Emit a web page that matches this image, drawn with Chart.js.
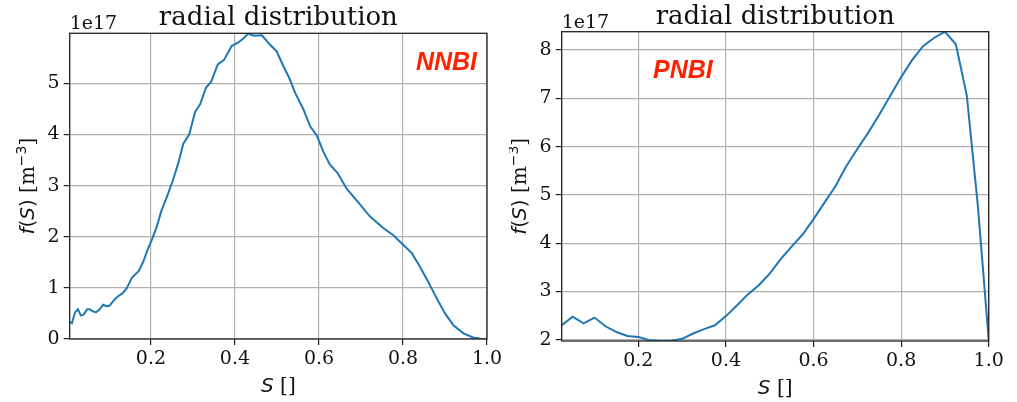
<!DOCTYPE html>
<html lang="en">
<head>
<meta charset="UTF-8">
<title>radial distribution</title>
<script src="https://cdn.jsdelivr.net/npm/chart.js"></script>
<style>
    body { margin: 0; background: white; }
    #wrap { position: relative; width: 1017px; height: 402px; }
    canvas { position: absolute; top: 0; }
    #nnbiChart { left: 0; }
    #pnbiChart { left: 509px; }
</style>
</head>
<body>
<div id="wrap">
    <canvas id="nnbiChart" width="508" height="402"></canvas>
    <canvas id="pnbiChart" width="508" height="402"></canvas>
</div>
<script>
// values are in units of 1e17 m^-3
const nnbiS = [0.0065, 0.012, 0.019, 0.026, 0.033, 0.039, 0.048, 0.054, 0.062, 0.069, 0.077, 0.086, 0.094, 0.101,
    0.108, 0.115, 0.124, 0.133, 0.142, 0.155, 0.171, 0.182, 0.192, 0.202, 0.213, 0.225, 0.237, 0.252, 0.265, 0.277,
    0.291, 0.305, 0.317, 0.331, 0.343, 0.359, 0.374, 0.392, 0.408, 0.420, 0.432, 0.440, 0.448, 0.464, 0.483, 0.499,
    0.515, 0.529, 0.543, 0.563, 0.579, 0.595, 0.610, 0.626, 0.644, 0.666, 0.698, 0.721, 0.753, 0.777, 0.801, 0.821,
    0.840, 0.860, 0.880, 0.900, 0.920, 0.944, 0.967, 0.985, 1.0];
const nnbiF = [0.33, 0.31, 0.52, 0.58, 0.46, 0.47, 0.58, 0.58, 0.54, 0.52, 0.57, 0.67, 0.64, 0.65,
    0.72, 0.79, 0.85, 0.90, 0.99, 1.20, 1.33, 1.52, 1.75, 1.94, 2.18, 2.51, 2.76, 3.10, 3.44, 3.82,
    4.00, 4.44, 4.59, 4.92, 5.03, 5.37, 5.46, 5.73, 5.80, 5.88, 5.98, 5.94, 5.93, 5.94, 5.76, 5.63,
    5.34, 5.11, 4.82, 4.49, 4.16, 3.98, 3.67, 3.41, 3.25, 2.94, 2.63, 2.40, 2.17, 2.03, 1.84, 1.68,
    1.42, 1.12, 0.80, 0.50, 0.27, 0.11, 0.03, 0.005, 0.0];

const pnbiS = [0.025, 0.05, 0.075, 0.1, 0.125, 0.15, 0.175, 0.2, 0.225, 0.25, 0.275, 0.3, 0.325, 0.35, 0.375,
    0.4, 0.425, 0.45, 0.475, 0.5, 0.525, 0.55, 0.575, 0.6, 0.625, 0.65, 0.675, 0.7, 0.725, 0.75, 0.775,
    0.8, 0.825, 0.85, 0.875, 0.9, 0.925, 0.95, 0.975, 1.0];
const pnbiF = [2.30, 2.48, 2.34, 2.46, 2.28, 2.16, 2.08, 2.06, 1.99, 1.975, 1.98, 2.02, 2.13, 2.22, 2.30,
    2.49, 2.71, 2.94, 3.13, 3.37, 3.67, 3.93, 4.18, 4.50, 4.84, 5.18, 5.60, 5.95, 6.29, 6.66, 7.05,
    7.44, 7.79, 8.08, 8.25, 8.38, 8.12, 7.06, 4.80, 2.0];

const xTicks = [0.2, 0.4, 0.6, 0.8, 1.0];
const nnbiYTicks = [0, 1, 2, 3, 4, 5];
const pnbiYTicks = [2, 3, 4, 5, 6, 7, 8];
const exponentLabel = '1e17';
const titleText = 'radial distribution';

const SERIF = "'DejaVu Serif', serif";
const SANS = "'DejaVu Sans', sans-serif";
const TAG_FONT = "italic bold 25px 'Liberation Sans', Arial, sans-serif";

const yLabelRuns = [
    { t: 'f', font: `italic 20px ${SANS}` },
    { t: '(', font: `20px ${SANS}` },
    { t: 'S', font: `italic 20px ${SANS}` },
    { t: ')', font: `20px ${SANS}` },
    { t: ' [m', font: `20px ${SERIF}` },
    { t: '\u22123', font: `14px ${SANS}`, rise: 8 },
    { t: ']', font: `20px ${SERIF}` }
];
const xLabelRuns = [
    { t: 'S', font: `italic 20px ${SANS}` },
    { t: ' []', font: `20px ${SERIF}` }
];

// draw a row of text pieces with different fonts
function drawRuns(ctx, runs, x, y) {
    let total = 0;
    runs.forEach(r => { ctx.font = r.font; total += ctx.measureText(r.t).width; });
    let cx = x - total / 2;
    runs.forEach(r => {
        ctx.font = r.font;
        ctx.fillText(r.t, cx, y - (r.rise || 0));
        cx += ctx.measureText(r.t).width;
    });
}

const decorPlugin = {
    id: 'decor',
    afterDraw(chart, args, opts) {
        const ctx = chart.ctx;
        const a = chart.chartArea;
        ctx.save();
        ctx.strokeStyle = '#222';
        ctx.lineWidth = 1.3;
        ctx.strokeRect(a.left, a.top, a.right - a.left, a.bottom - a.top);

        ctx.fillStyle = '#111';
        ctx.textBaseline = 'alphabetic';
        ctx.textAlign = 'center';
        ctx.font = `26px ${SERIF}`;
        ctx.fillText(titleText, (a.left + a.right) / 2, a.top - 8);

        ctx.textAlign = 'left';
        ctx.font = `19px ${SERIF}`;
        ctx.fillText(exponentLabel, a.left, a.top - 4);

        drawRuns(ctx, xLabelRuns, (a.left + a.right) / 2, a.bottom + 53);

        ctx.save();
        ctx.translate(a.left - 36, (a.top + a.bottom) / 2);
        ctx.rotate(-Math.PI / 2);
        drawRuns(ctx, yLabelRuns, 0, 0);
        ctx.restore();

        ctx.font = TAG_FONT;
        ctx.fillStyle = '#ff2200';
        ctx.textAlign = opts.tagAlign;
        ctx.fillText(opts.tag, opts.tagX, opts.tagY);
        ctx.restore();
    }
};

function makeChart(id, s, f, yTicks, geom, tag) {
    const points = s.map((v, i) => ({ x: v, y: f[i] }));
    return new Chart(document.getElementById(id), {
        type: 'line',
        data: {
            datasets: [{
                data: points,
                borderColor: '#1f77b4',
                borderWidth: 2,
                pointRadius: 0,
                tension: 0,
                fill: false
            }]
        },
        options: {
            responsive: false,
            animation: false,
            devicePixelRatio: 1,
            layout: { padding: { left: 0, top: geom.top, right: geom.right, bottom: 0 } },
            plugins: {
                legend: { display: false },
                tooltip: { enabled: false },
                decor: tag
            },
            scales: {
                x: {
                    type: 'linear',
                    min: s[0],
                    max: s[s.length - 1],
                    afterBuildTicks: sc => { sc.ticks = xTicks.map(v => ({ value: v })); },
                    afterFit: sc => { sc.height = geom.xAxisH; },
                    grid: { color: '#b0b0b0', lineWidth: 1.2, tickColor: '#222', tickLength: 6 },
                    border: { display: false },
                    ticks: {
                        color: '#111',
                        font: { family: SERIF, size: 19 },
                        padding: 3,
                        maxRotation: 0,
                        autoSkip: false,
                        callback: v => v.toFixed(1)
                    }
                },
                y: {
                    min: Math.min(...f),
                    max: Math.max(...f),
                    afterBuildTicks: sc => { sc.ticks = yTicks.map(v => ({ value: v })); },
                    afterFit: sc => { sc.width = geom.yAxisW; },
                    grid: { color: '#b0b0b0', lineWidth: 1.2, tickColor: '#222', tickLength: 6 },
                    border: { display: false },
                    ticks: {
                        color: '#111',
                        font: { family: SERIF, size: 19 },
                        padding: 4,
                        autoSkip: false,
                        callback: v => String(v)
                    }
                }
            }
        },
        plugins: [decorPlugin]
    });
}

makeChart('nnbiChart', nnbiS, nnbiF, nnbiYTicks,
    { top: 33.3, right: 21, yAxisW: 69.7, xAxisH: 63 },
    { tag: 'NNBI', tagAlign: 'right', tagX: 477, tagY: 70 });
makeChart('pnbiChart', pnbiS, pnbiF, pnbiYTicks,
    { top: 31.7, right: 28.3, yAxisW: 52.7, xAxisH: 61 },
    { tag: 'PNBI', tagAlign: 'left', tagX: 144, tagY: 78 });
</script>
</body>
</html>
